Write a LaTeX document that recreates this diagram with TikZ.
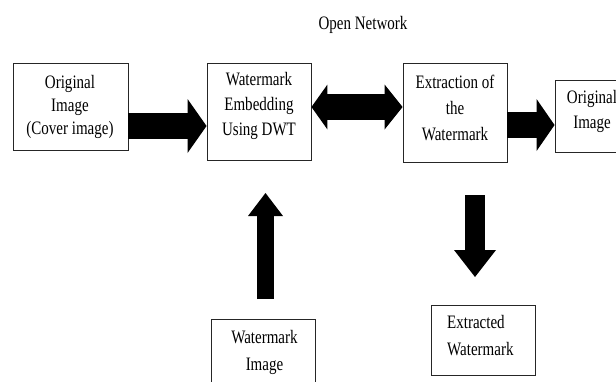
\documentclass[tikz,border=0pt]{standalone}
\usepackage{fontspec}
\setmainfont[FakeStretch=0.79]{Liberation Serif}
\usetikzlibrary{arrows.meta}
\begin{document}
\begin{tikzpicture}[x=1pt,y=-1pt,
  box/.style={draw=black!85, line width=0.9pt, fill=white, inner sep=0pt},
  txt/.style={align=center, inner sep=0pt, font=\fontsize{19}{#1}\selectfont},
  txt/.default=24,
  fatarrow/.style={line width=#1, black}
]
\useasboundingbox (0,0) rectangle (616,381);
\fill[white] (0,0) rectangle (616,381);

% boxes
\node[box, minimum width=115pt, minimum height=87pt] (orig) at (70.5,106.5) {};
\node[box, minimum width=104pt, minimum height=97pt] (emb) at (259,111.5) {};
\node[box, minimum width=104pt, minimum height=99pt] (extr) at (455,112.5) {};
\node[box, minimum width=76pt, minimum height=72pt] (out) at (593,116) {};
\node[box, minimum width=104pt, minimum height=90pt] (wm) at (263,364) {};
\node[box, minimum width=104pt, minimum height=70pt] (exw) at (483,340) {};

% texts
\node[txt=23] (t1) at (70,107) {Original\\Image\\(Cover image)};
\node[txt=25] (t2) at (259,106) {Watermark\\Embedding\\Using DWT};
\node[txt=26] (t3) at (455,108) {Extraction of\\the\\Watermark};
\node[txt=25] (t4) at (592,111.5) {Original\\Image};
\node[txt=27] (t5) at (264.5,352.5) {Watermark\\Image};
\node[txt=27, align=left, anchor=west] (t6) at (447,335.5) {Extracted\\Watermark};
\node[txt, anchor=base] (net) at (363,29) {Open Network};

% helper coordinates
\coordinate (y1) at (0,126);
\coordinate (y2) at (0,107);
\coordinate (y3) at (0,125);
\coordinate (ubot) at (265.5,299);
\coordinate (utop) at (265.5,193);
\coordinate (dtop) at (475,195);
\coordinate (dbot) at (475,277);

% fat arrows
\draw[fatarrow=26pt, -{Triangle[length=19pt,width=54pt,line width=0pt]}]
  (orig.east |- y1) -- (emb.west |- y1);
\draw[fatarrow=26pt, {Triangle[length=16pt,width=45pt,line width=0pt]}-{Triangle[length=18pt,width=45pt,line width=0pt]}]
  (emb.east |- y2) -- (extr.west |- y2);
\draw[fatarrow=26pt, -{Triangle[length=18pt,width=52pt,line width=0pt]}]
  (extr.east |- y3) -- (out.west |- y3);
\draw[fatarrow=17pt, -{Triangle[length=23pt,width=35pt,line width=0pt]}]
  (ubot) -- (utop);
\draw[fatarrow=20pt, -{Triangle[length=27pt,width=42pt,line width=0pt]}]
  (dtop) -- (dbot);
\end{tikzpicture}
\end{document}
